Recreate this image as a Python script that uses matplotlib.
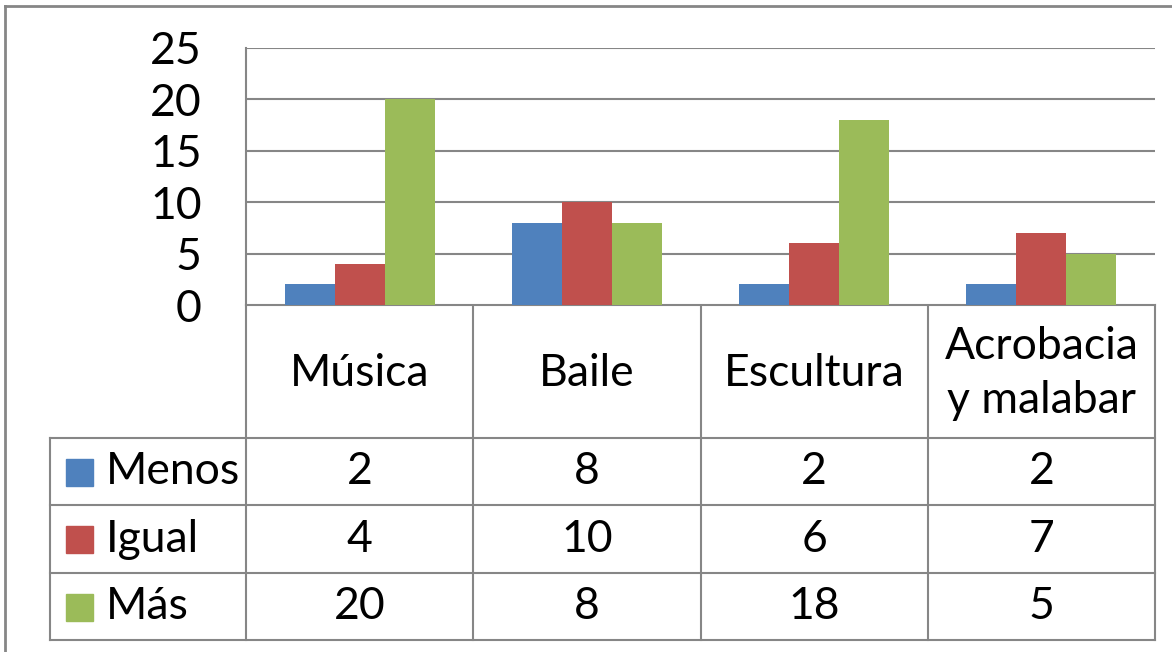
import numpy as np
import matplotlib.pyplot as plt
from matplotlib.patches import Rectangle

plt.rcParams['font.family'] = ['Lato', 'DejaVu Sans']

categories = ['Música', 'Baile', 'Escultura', 'Acrobacia\ny malabar']
series = ['Menos', 'Igual', 'Más']
menos = [2, 8, 2, 2]
igual = [4, 10, 6, 7]
mas = [20, 8, 18, 5]
values = [menos, igual, mas]
colors = ['#4F81BD', '#C0504D', '#9BBB59']
yticks = [0, 5, 10, 15, 20, 25]

W, H = 1172, 652
grid_col = '#868686'
fig = plt.figure(figsize=(W / 100, H / 100), dpi=100)

# pixel layout
px_left, px_right = 246, 1155
px_top, px_zero = 48, 305
tab_left = 50
row_edges = [305, 438, 505, 573, 640]

# overlay axes in pixel coords for table and border
bg = fig.add_axes([0, 0, 1, 1])
bg.set_xlim(0, W)
bg.set_ylim(H, 0)
bg.axis('off')

fs = 32

ax = fig.add_axes([px_left / W, 1 - px_zero / H,
                   (px_right - px_left) / W, (px_zero - px_top) / H])
n = len(categories)
x = np.arange(n)
bw = 0.22
for i, (vals, c) in enumerate(zip(values, colors)):
    ax.bar(x + (i - 1) * bw, vals, width=bw, color=c, zorder=3)
ax.set_xlim(-0.5, n - 0.5)
ax.set_ylim(0, 25)
ax.set_yticks(yticks)
ax.set_yticklabels([str(t) for t in yticks], fontsize=fs)
ax.tick_params(axis='y', length=0, pad=32)
ax.set_xticks([])
ax.yaxis.grid(True, color=grid_col, lw=1.5)
for s in ['top', 'right', 'bottom']:
    ax.spines[s].set_visible(False)
ax.spines['left'].set_color(grid_col)
ax.spines['left'].set_linewidth(1.5)

# outer border (left and top visible)
bg.plot([5, 5], [H, 6], color=grid_col, lw=2)
bg.plot([5, W], [6, 6], color=grid_col, lw=2)

# data table
col_edges = np.linspace(px_left, px_right, n + 1)
lk = dict(color=grid_col, lw=1.5)
bg.plot([px_left, px_right], [row_edges[0]] * 2, **lk)
for y in row_edges[1:]:
    bg.plot([tab_left, px_right], [y, y], **lk)
bg.plot([tab_left, tab_left], [row_edges[1], row_edges[-1]], **lk)
for xe in col_edges:
    bg.plot([xe, xe], [row_edges[0], row_edges[-1]], **lk)

for j, cat in enumerate(categories):
    cx = (col_edges[j] + col_edges[j + 1]) / 2
    bg.text(cx, (row_edges[0] + row_edges[1]) / 2 + 2, cat, ha='center', va='center',
            fontsize=fs, linespacing=1.4)
for i, (name, vals, c) in enumerate(zip(series, values, colors)):
    cy = (row_edges[i + 1] + row_edges[i + 2]) / 2
    bg.add_patch(Rectangle((66, cy - 13), 27, 27, color=c))
    bg.text(106, cy, name, ha='left', va='center', fontsize=fs)
    for j, v in enumerate(vals):
        cx = (col_edges[j] + col_edges[j + 1]) / 2
        bg.text(cx, cy, str(v), ha='center', va='center', fontsize=fs)

fig.savefig('out.png', dpi=100)
